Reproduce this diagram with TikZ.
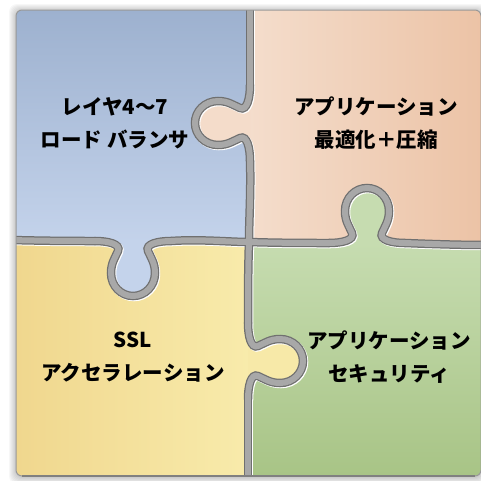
\documentclass[tikz,border=0pt]{standalone}
\usepackage{fontspec}
\newfontfamily\jp{Noto Sans CJK JP}
\definecolor{bluetop}{HTML}{9DB1CF}
\definecolor{bluebot}{HTML}{C4D3EB}
\definecolor{peachL}{HTML}{F4DDCC}
\definecolor{peachR}{HTML}{ECC3A6}
\definecolor{yelL}{HTML}{F0D78E}
\definecolor{yelR}{HTML}{F8EBAB}
\definecolor{grnT}{HTML}{C6DCB0}
\definecolor{grnB}{HTML}{A8C486}
\newcommand\knobpath{(-38,0) .. controls (-25,0) and (-12,3) .. (-15,10) .. controls (-18,17) and (-22,22) .. (-22,32) .. controls (-22,45) and (-12,55) .. (0,55) .. controls (12,55) and (22,45) .. (22,32) .. controls (22,22) and (18,17) .. (15,10) .. controls (12,3) and (25,0) .. (38,0)}
\newcommand\seamlines[1]{%
 \draw[#1] (250,6) -- (250,85);
 \draw[#1] (250,161) .. controls (251,190) and (249,220) .. (249,242);
 \draw[#1] (12,240) .. controls (50,241) and (80,241) .. (95,241);
 \draw[#1] (171,241) .. controls (200,239) and (230,242) .. (249,242);
 \draw[#1] (249,242) .. controls (280,243) and (310,243) .. (329,243);
 \draw[#1] (405,243) .. controls (430,244) and (460,245) .. (486,245);
 \draw[#1] (249,242) .. controls (248,270) and (248,300) .. (248,323);
 \draw[#1] (248,399) .. controls (248,430) and (248,460) .. (248,482);
 \begin{scope}[shift={(250,123)},rotate=-90]\draw[#1] \knobpath;\end{scope}
 \begin{scope}[shift={(133,241)}]\draw[#1] \knobpath;\end{scope}
 \begin{scope}[shift={(367,243)},yscale=-1]\draw[#1] \knobpath;\end{scope}
 \begin{scope}[shift={(248,361)},rotate=90]\draw[#1] \knobpath;\end{scope}
}
\tikzset{
 lab/.style={font=\jp\bfseries\fontsize{20.5}{33}\selectfont, align=center, text=black, inner sep=0pt},
 seamwhite/.style={white, line width=8.5pt, line cap=round},
 seamdark/.style={black!56, line width=8.5pt, line cap=round},
 seamgray/.style={black!34, line width=6pt, line cap=round}
}
\begin{document}
\begin{tikzpicture}[x=1pt,y=-1pt]
\useasboundingbox (0,0) rectangle (481,480);
% soft shadow
\foreach \k in {1,...,7}
  \fill[black, opacity=0.03, rounded corners=8pt] (16-\k,10-\k+1) rectangle (481+\k,476+\k+1);
\begin{scope}
 \clip[rounded corners=6pt] (16,10) rectangle (481,476);
 % quadrants
 \shade[top color=bluetop, bottom color=bluebot] (16,10) rectangle (249.5,242);
 \shade[left color=peachL, right color=peachR] (249.5,10) rectangle (481,243);
 \shade[left color=yelL, right color=yelR] (16,242) rectangle (248.5,476);
 \shade[top color=grnT, bottom color=grnB] (248.5,243) rectangle (481,476);
 % knobs
 \begin{scope}[shift={(250,123)},rotate=-90]\fill[peachL!95!peachR] \knobpath -- cycle;\end{scope}
 \begin{scope}[shift={(133,241)}]\fill[bluebot] \knobpath -- cycle;\end{scope}
 \begin{scope}[shift={(367,243)},yscale=-1]\fill[grnT] \knobpath -- cycle;\end{scope}
 \begin{scope}[shift={(248,361)},rotate=90]\fill[yelR!90!yelL] \knobpath -- cycle;\end{scope}
 % seams
 \begin{scope}[shift={(1,1)}]\seamlines{seamwhite}\end{scope}
 \seamlines{seamdark}
 \seamlines{seamgray}
\end{scope}
% frame
\draw[black!40, line width=1pt, rounded corners=6pt] (16,10) rectangle (481,476);
\draw[black!50, line width=1.5pt] (22,476) -- (475,476);
% labels
\node[lab] (lb) at (115,123.5) {レイヤ4～7\\ロード バランサ};
\node[lab] (lp) at (376,123.5) {アプリケーション\\最適化＋圧縮};
\node[lab] (ly) at (133,357) {SSL\\アクセラレーション};
\node[lab] (lg) at (389,357) {アプリケーション\\セキュリティ};
\end{tikzpicture}
\end{document}
